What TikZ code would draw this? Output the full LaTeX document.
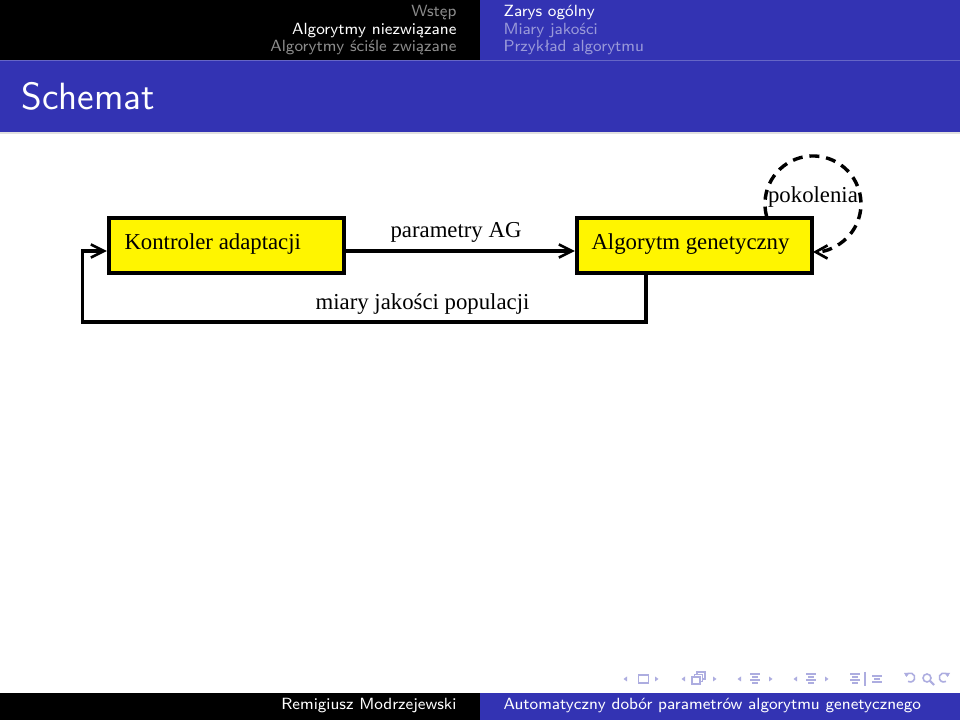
\documentclass[tikz,border=0pt]{standalone}
\usepackage{fontspec}
\newfontfamily\diagfont{Liberation Serif}
\usetikzlibrary{arrows.meta}
\definecolor{struct}{RGB}{51,51,179}
\definecolor{inacthead}{RGB}{140,140,140}
\definecolor{inactsub}{RGB}{153,153,217}
\definecolor{navc}{RGB}{173,173,224}
\definecolor{boxyellow}{RGB}{255,245,0}
\begin{document}
\begin{tikzpicture}[x=0.3794pt,y=-0.3794pt,
  headtxt/.style={inner sep=0pt,font=\fontsize{6.15}{7}\selectfont\sffamily},
  boxnode/.style={draw=black,line width=1.5pt,fill=boxyellow,inner sep=0pt,
    minimum width=89.2pt,minimum height=20.9pt},
  dtext/.style={inner sep=0pt,font=\fontsize{8.64}{10}\selectfont\diagfont},
  conn/.style={line width=1.15pt,-{Straight Barb[length=5pt,width=5pt,line width=1pt]}},
  navline/.style={draw=navc,line width=0.45pt},
]
\useasboundingbox (0,0) rectangle (960,720);
% background bands
\fill[white] (0,0) rectangle (960,720);
\fill[black] (0,0) rectangle (480,60);
\fill[struct] (480,0) rectangle (960,60);
\fill[struct] (0,60) rectangle (960,132);
\fill[struct!75!white] (0,60) rectangle (960,61.2);
\fill[black!12] (0,132) rectangle (960,134);
\fill[black] (0,693) rectangle (480,720);
\fill[struct] (480,693) rectangle (960,720);

% headline
\node[headtxt,anchor=base east,text=inacthead] (h1) at (457,17) {Wstęp};
\node[headtxt,anchor=base east,text=white] (h2) at (457,35) {Algorytmy niezwiązane};
\node[headtxt,anchor=base east,text=inacthead] (h3) at (457,52) {Algorytmy ściśle związane};
\node[headtxt,anchor=base west,text=white] (s1) at (503,17) {Zarys ogólny};
\node[headtxt,anchor=base west,text=inactsub] (s2) at (503,35) {Miary jakości};
\node[headtxt,anchor=base west,text=inactsub] (s3) at (503,52) {Przykład algorytmu};

% frame title
\node[inner sep=0pt,anchor=base west,text=white,font=\fontsize{14.4}{16}\selectfont\sffamily] (title) at (21,110) {Schemat};

% footline
\node[headtxt,anchor=base east,text=white] (f1) at (457,710) {Remigiusz Modrzejewski};
\node[headtxt,anchor=base west,text=white] (f2) at (503,710) {Automatyczny dobór parametrów algorytmu genetycznego};

% diagram
\node[boxnode] (b1) at (226.5,245.5) {};
\node[boxnode] (b2) at (694.5,245.5) {};
\node[dtext,anchor=base west] (t1) at (124,250) {Kontroler adaptacji};
\node[dtext,anchor=base west] (t2) at (591,250) {Algorytm genetyczny};
\coordinate (lvl) at (0,251);
\coordinate (fbx) at (646,322);
\coordinate (fbl) at (82.5,322);
\draw[conn] (b1.east |- lvl) -- (b2.west |- lvl);
\node[dtext,anchor=base] (lab1) at (456,238) {parametry AG};
\draw[conn,line join=miter] (b2.south -| fbx) -- (fbx) -- (fbl) -- (fbl |- lvl) -- (b1.west |- lvl);
\node[dtext,anchor=base] (lab2) at (422.5,310) {miary jakości populacji};
\coordinate (loopstart) at (766.6,216.4);
\draw[line width=1.3pt,dash pattern=on 3.8pt off 2.6pt,-{Straight Barb[length=4.5pt,width=5pt,line width=1pt]}]
  (loopstart) arc[start angle=165,end angle=450,radius=48];
\node[dtext,anchor=base] (lab3) at (813,203) {pokolenia};

% navigation symbols
\begin{scope}[navc]
  % slide
  \fill[navc] (623.5,679) -- ++(3.5,-2.5) -- ++(0,5) -- cycle;
  \draw[navline] (638.5,675) rectangle (648.5,683);
  \fill[navc] (658.5,679) -- ++(-3.5,-2.5) -- ++(0,5) -- cycle;
  % frame
  \fill[navc] (681.5,679) -- ++(3.5,-2.5) -- ++(0,5) -- cycle;
  \draw[navline] (692,677) rectangle (700,684);
  \draw[navline] (694.5,677) -- (694.5,674.5) -- (702.5,674.5) -- (702.5,681.5) -- (700,681.5);
  \draw[navline] (697,674.5) -- (697,672) -- (705,672) -- (705,679) -- (702.5,679);
  \fill[navc] (716.5,679) -- ++(-3.5,-2.5) -- ++(0,5) -- cycle;
  % subsection
  \fill[navc] (737.5,679) -- ++(3.5,-2.5) -- ++(0,5) -- cycle;
  \draw[navline] (750,674) -- (760,674) (752,677) -- (758,677) (750,680) -- (760,680) (752,683) -- (758,683);
  \fill[navc] (772.5,679) -- ++(-3.5,-2.5) -- ++(0,5) -- cycle;
  % section
  \fill[navc] (793.5,679) -- ++(3.5,-2.5) -- ++(0,5) -- cycle;
  \draw[navline] (806,674) -- (816,674) (808,677) -- (814,677) (806,680) -- (816,680) (808,683) -- (814,683);
  \fill[navc] (828.5,679) -- ++(-3.5,-2.5) -- ++(0,5) -- cycle;
  % appendix / document
  \draw[navline] (850,674) -- (860,674) (852,677) -- (858,677) (850,680) -- (860,680) (852,683) -- (858,683);
  \draw[navline] (865,672) -- (865,686);
  \draw[navline] (872,676) -- (882,676) (874,679) -- (880,679) (872,682) -- (882,682);
  % back, search, forward
  \draw[navline,line width=0.6pt] (906,676) arc[start angle=200,end angle=480,radius=4.5];
  \fill[navc] (904,673) -- ++(4,0) -- ++(-1.5,4) -- cycle;
  \draw[navline,line width=0.6pt] (927,678) circle[radius=4];
  \draw[navline,line width=0.8pt] (930,681) -- (934,685);
  \draw[navline,line width=0.6pt] (948,676) arc[start angle=-20,end angle=-300,radius=4.5];
  \fill[navc] (950,673) -- ++(-4,0) -- ++(1.5,4) -- cycle;
\end{scope}
\end{tikzpicture}
\end{document}
